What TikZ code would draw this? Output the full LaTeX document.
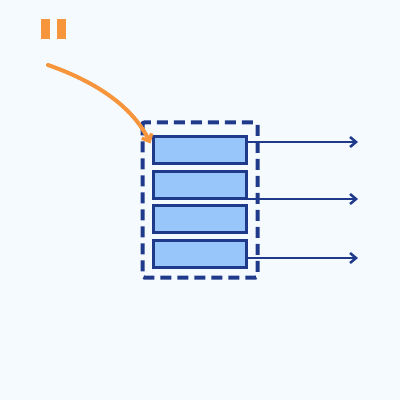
\documentclass[tikz,border=0pt]{standalone}
\usetikzlibrary{arrows.meta,positioning,calc}
\definecolor{bgblue}{HTML}{F5FAFF}
\definecolor{navy}{HTML}{1F3A8A}
\definecolor{slotblue}{HTML}{98C5FA}
\definecolor{accent}{HTML}{F7953D}
\tikzset{
	slot/.style={draw=navy, fill=slotblue, line width=2.8pt, minimum width=93pt, minimum height=27pt, outer sep=0pt, inner sep=0pt},
	frame/.style={draw=navy, line width=4pt, dash pattern=on 11pt off 6pt, rounded corners=2pt},
	outarrow/.style={draw=navy, line width=2.5pt, -{Straight Barb[length=6pt,width=10pt,line width=2.5pt]}},
}
\begin{document}
\begin{tikzpicture}[x=1pt,y=-1pt]
	\fill [bgblue] (0,0) rectangle (400,400);
	\useasboundingbox (0,0) rectangle (400,400);
	\fill [accent] (40.5,18.5) rectangle (49.5,38.5);
	\fill [accent] (56.5,18.5) rectangle (65.5,38.5);
	\matrix (stack) at (200,202) [row sep=4.9pt, inner sep=0pt] {
		\node [slot] (s1) {}; \\
		\node [slot] (s2) {}; \\
		\node [slot] (s3) {}; \\
		\node [slot] (s4) {}; \\
	};
	\draw [frame] ($(s1.north west)+(-11,-14)$) rectangle ($(s4.south east)+(11,10)$);
	\coordinate (start) at (48,65);
	\coordinate (o1) at (358,142);
	\coordinate (o2) at (358,199);
	\coordinate (o3) at (358,258);
	\draw [outarrow] (s1.east |- o1) -- (o1);
	\draw [outarrow] (s2.east |- o2) -- (o2);
	\draw [outarrow] (s4.east |- o3) -- (o3);
	\draw [accent, line width=4pt, line cap=round, -{Straight Barb[length=6pt,width=11pt,line width=3.5pt]}] (start) .. controls (105,85) and (135,112) .. ($(s1.north west)+(-3,7)$);
\end{tikzpicture}
\end{document}
